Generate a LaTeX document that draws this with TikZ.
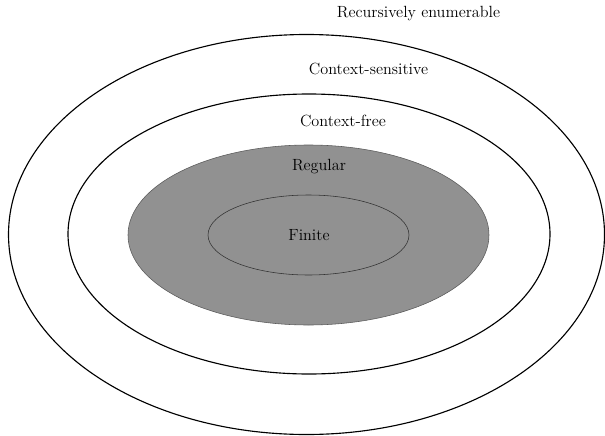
\documentclass[tikz,border=0pt]{standalone}
\usepackage{tikz}
\definecolor{regfill}{RGB}{145,145,145}
\definecolor{regline}{RGB}{90,90,90}
\tikzset{classlabel/.style={font=\fontsize{11.5}{14}\selectfont}}

\begin{document}
\begin{tikzpicture}[x=0.71pt,y=-0.71pt]
    \useasboundingbox (0,0) rectangle (605,435);
    % nested language classes
    \draw[thick] (306.5,234.5) ellipse [x radius=298,y radius=200];
    \draw[thick] (309,234) ellipse [x radius=241,y radius=140];
    \draw[fill=regfill,draw=regline] (308.5,235) ellipse [x radius=180.5,y radius=90];
    \draw[draw=black!80] (308.5,235) ellipse [x radius=100.5,y radius=40];
    \node[classlabel] (re) at (418.5,14) {Recursively enumerable};
    \node[classlabel] (cs) at (368.5,69) {Context-sensitive};
    \node[classlabel] (cf) at (343,121) {Context-free};
    \node[classlabel] (reg) at (319,167) {Regular};
    \node[classlabel] (fin) at (309,235) {Finite};
  \end{tikzpicture}
\end{document}
